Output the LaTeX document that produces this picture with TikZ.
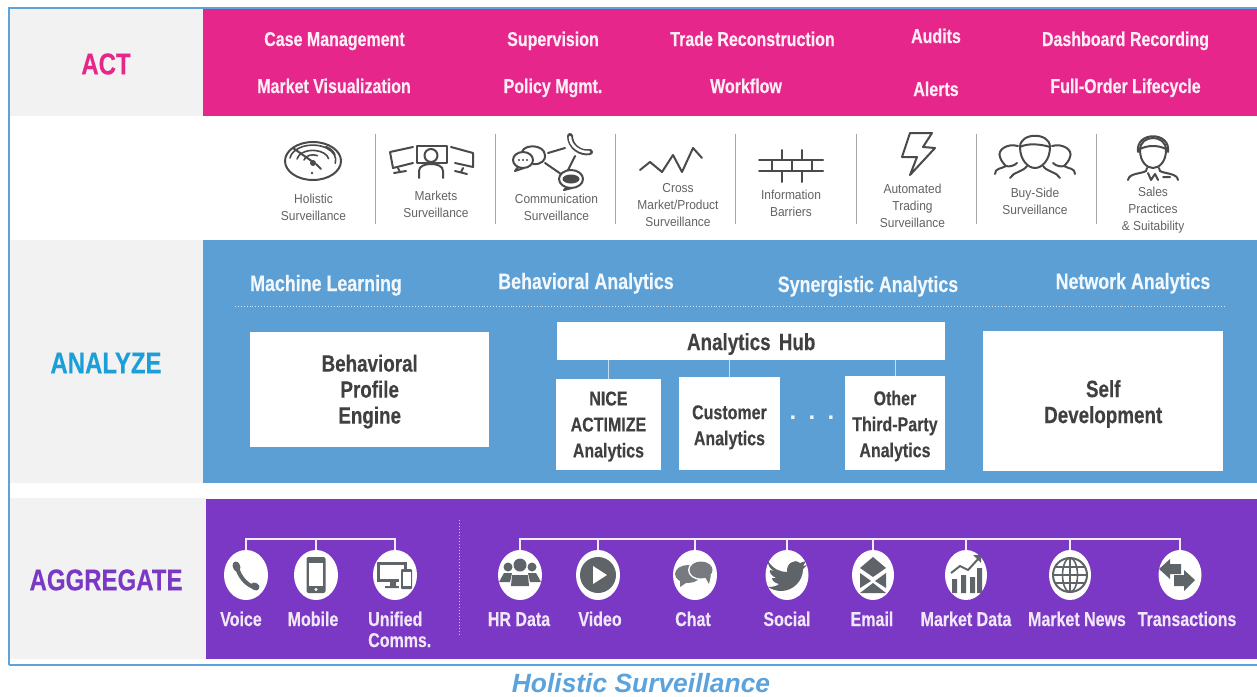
\documentclass[tikz,border=0pt]{standalone}
\usepackage{fontspec}
\setmainfont{Liberation Sans}
\newfontfamily\headfont[FakeStretch=0.80,BoldFeatures={FakeBold=0.25}]{Liberation Sans}
\newfontfamily\thinfont[FakeStretch=0.92]{Liberation Sans}
\usetikzlibrary{shapes.geometric}
\definecolor{pinkc}{HTML}{E6268A}
\definecolor{bluec}{HTML}{5B9FD4}
\definecolor{purplec}{HTML}{7B38C4}
\definecolor{analyzec}{HTML}{1C9FD8}
\definecolor{bandc}{HTML}{F2F2F2}
\definecolor{framec}{HTML}{5BA3DC}
\definecolor{icong}{HTML}{4A4A4A}
\definecolor{fillg}{HTML}{5F6468}
\definecolor{labelg}{HTML}{636363}
\newcommand{\blines}[2]{\raisebox{#1}[0pt][0pt]{\begin{tabular}{@{}c@{}}#2\end{tabular}}}
\tikzset{
  band/.style={fill=bandc,draw=none},
  rowlabel/.style={font=\headfont\bfseries\fontsize{30}{32}\selectfont,inner sep=0pt},
  head/.style={font=\headfont\bfseries\fontsize{20}{24}\selectfont,text=white!92!pinkc,inner sep=0pt,anchor=base},
  headb/.style={font=\headfont\bfseries\fontsize{22.3}{24}\selectfont,text=white!92!bluec,inner sep=0pt,anchor=base},
  boxlarge/.style={fill=white,text=black!75,font=\headfont\bfseries\fontsize{23.5}{26}\selectfont,align=center,inner sep=0pt,anchor=north west},
  boxsmall/.style={fill=white,text=black!75,font=\headfont\bfseries\fontsize{20}{26}\selectfont,align=center,inner sep=0pt,anchor=north west},
  tiny/.style={font=\thinfont\fontsize{13}{17}\selectfont,text=labelg,align=center,inner sep=0pt},
  sep/.style={draw=black!35,line width=1pt},
  ico/.style={draw=icong,line width=2pt,line cap=round,line join=round},
  src/.style={fill=white,draw=none,ellipse,minimum width=44pt,minimum height=50pt,inner sep=0pt},
  srctext/.style={font=\headfont\bfseries\fontsize{20}{21}\selectfont,text=white!88!purplec,inner sep=0pt,anchor=base},
  bus/.style={draw=white!90!purplec,line width=1.5pt},
  hubline/.style={draw=white!65!bluec,line width=.8pt},
  igl/.style={fill=fillg,draw=none}
}
\begin{document}
\begin{tikzpicture}[x=1pt,y=-1pt]
\useasboundingbox (0,0) rectangle (1257,696);
% bands
\fill[white] (0,0) rectangle (1257,696);
\fill[band] (10,9) rectangle (203,116);
\fill[band] (10,240) rectangle (203,483);
\fill[band] (10,498) rectangle (206,659);
\fill[pinkc] (203,9) rectangle (1257,116);
\fill[bluec] (203,240) rectangle (1257,483);
\fill[purplec] (206,499) rectangle (1257,659);
\draw[framec,line width=1.5pt] (9,665) -- (9,8) -- (1257,8);
\draw[framec,line width=1.5pt] (9,665) -- (1257,665);
% row labels
\node[rowlabel,text=pinkc] (act) at (106,64) {ACT};
\node[rowlabel,text=analyzec] (analyze) at (106,363) {ANALYZE};
\node[rowlabel,text=purplec] (aggregate) at (106,580) {AGGREGATE};
% ACT
\node[head] (a1) at (334.5,46) {Case Management};
\node[head] (a2) at (553,46) {Supervision};
\node[head] (a3) at (752.5,46) {Trade Reconstruction};
\node[head] (a4) at (936,43) {Audits};
\node[head] (a5) at (1125.5,46) {Dashboard Recording};
\node[head] (a6) at (334,93) {Market Visualization};
\node[head] (a7) at (553,93) {Policy Mgmt.};
\node[head] (a8) at (746,93) {Workflow};
\node[head] (a9) at (936,96) {Alerts};
\node[head] (a10) at (1125.5,93) {Full-Order Lifecycle};
% separators
\foreach \x in {375,495,615,735,856,976,1096} \draw[sep] (\x,134) -- (\x,224);
% labels
\node[tiny] (s1) at (313.5,207) {Holistic\\Surveillance};
\node[tiny] (s2) at (436,204) {Markets\\Surveillance};
\node[tiny] (s3) at (556.5,207.5) {Communication\\Surveillance};
\node[tiny] (s4) at (678,205) {Cross\\Market/Product\\Surveillance};
\node[tiny] (s5) at (791,203.5) {Information\\Barriers};
\node[tiny] (s6) at (912.5,206) {Automated\\Trading\\Surveillance};
\node[tiny] (s7) at (1035,201) {Buy-Side\\Surveillance};
\node[tiny] (s8) at (1153,210.5) {Sales\\Practices\\\& Suitability};
% icon: radar
\begin{scope}[shift={(313,161)}]
\draw[ico] (0,0) ellipse (28 and 19);
\draw[ico,line width=1.6pt] (-23,-3) arc (188:372:23 and 15);
\draw[ico,line width=1.6pt] (-16,-2) arc (188:350:16 and 10);
\draw[ico,line width=1.6pt] (-9,-1) arc (188:300:9 and 6);
\draw[ico,line width=1.6pt] (22,-6) arc (-10:-55:22 and 13);
\draw[ico] (-20,-13) -- (0,1) (3,3) -- (8,8);
\fill[icong] (0,2) circle (3);
\fill[icong] (-1,12) circle (1.3);
\end{scope}
% icon: monitors
\draw[ico] (417,146) rectangle (447,163);
\draw[ico] (413,147) -- (390,152) -- (393,168) -- (413,163);
\draw[ico] (451,147) -- (473,153) -- (473,167) -- (455,163);
\draw[ico] (431,155.5) circle (6.5);
\draw[ico] (419,178) -- (419,171) .. controls (419,166) and (425,164) .. (431,164) .. controls (437,164) and (443,166) .. (443,171) -- (443,178);
\draw[ico] (398,168) -- (400,172) (394,173) -- (406,171);
\draw[ico] (463,168) -- (461,172) (455,171) -- (467,174);
% icon: communication
\draw[ico] (523,160) ellipse (10 and 8);
\draw[ico] (522,152) .. controls (524,144) and (544,144) .. (545,155) .. controls (546,160) and (541,165) .. (533,164);
\draw[ico] (518,167) -- (515,171) -- (524,168);
\fill[icong] (519,160) circle (1.1) (523,160) circle (1.1) (527,160) circle (1.1);
\draw[ico] (548,153) -- (565,148);
\draw[ico] (545,163) -- (561,174);
\draw[ico] (575,156) -- (568,170);
\draw[icong,line width=6pt,line cap=round] (570,136) .. controls (570,146) and (580,154) .. (590,152);
\draw[white,line width=2.6pt,line cap=round] (570,137) .. controls (570,146) and (580,153) .. (589,152);
\draw[ico] (571,179) ellipse (12 and 9);
\draw[ico] (566,188) -- (564,190) -- (572,188);
\fill[icong] (571,179) ellipse (8.5 and 4.5);
% icon: cross market
\draw[ico] (640,170) -- (650,162) -- (662,172) -- (673,155) -- (682,172) -- (693,148) -- (702,158);
% icon: barriers
\draw[ico] (759,160) -- (823,160) (759,171) -- (823,171);
\draw[ico] (782,150) -- (782,160) (802,150) -- (802,160);
\draw[ico] (772,160) -- (772,171) (792,160) -- (792,171) (812,160) -- (812,171);
\draw[ico] (782,171) -- (782,182) (802,171) -- (802,182);
% icon: bolt
\draw[ico] (910,133) -- (932,133) -- (923,147) -- (935,148) -- (910,175) -- (917,157) -- (902,157) -- cycle;
% icon: buy side
\begin{scope}[shift={(1035,152)}]
\draw[ico] (-15,-5) .. controls (-15,-20) and (15,-20) .. (15,-5) .. controls (15,8) and (7,16) .. (0,16) .. controls (-7,16) and (-15,8) .. (-15,-5) -- cycle;
\draw[ico] (-15,-5) .. controls (-8,-9) and (6,-8) .. (15,-5);
\draw[ico] (-25,26) .. controls (-22,20) and (-12,20) .. (-8,14);
\draw[ico] (25,26) .. controls (22,20) and (12,20) .. (8,14);
\draw[ico] (-17,-6) .. controls (-28,-9) and (-38,-2) .. (-35,5) .. controls (-34,9) and (-31,12) .. (-29,14) .. controls (-34,17) and (-40,16) .. (-40,22);
\draw[ico] (-29,14) .. controls (-26,15) and (-21,14) .. (-18,11);
\draw[ico] (17,-6) .. controls (28,-9) and (38,-2) .. (35,5) .. controls (34,9) and (31,12) .. (29,14) .. controls (34,17) and (40,16) .. (40,22);
\draw[ico] (29,14) .. controls (26,15) and (21,14) .. (18,11);
\end{scope}
% icon: sales
\begin{scope}[shift={(1153,155)}]
\draw[ico] (-13,-5) .. controls (-13,-21) and (13,-21) .. (13,-5) .. controls (13,7) and (6,13) .. (0,13) .. controls (-6,13) and (-13,7) .. (-13,-5) -- cycle;
\draw[ico] (-15,-3) .. controls (-18,-24) and (18,-24) .. (15,-3);
\draw[ico] (-13,-6) .. controls (-5,-10) and (5,-10) .. (13,-6);
\draw[ico] (-6,13) -- (-7,16) .. controls (-12,19) and (-24,18) .. (-25,25);
\draw[ico] (6,13) -- (7,16) .. controls (12,19) and (24,18) .. (25,25);
\draw[ico] (-5,18) -- (-2,25) -- (2,19) -- (5,25) (10,22) -- (17,22);
\end{scope}
% ANALYZE
\node[headb] (b1) at (326,291) {Machine Learning};
\node[headb] (b2) at (586,289) {Behavioral Analytics};
\node[headb] (b3) at (868,292) {Synergistic Analytics};
\node[headb] (b4) at (1133,289) {Network Analytics};
\coordinate (ruleL) at (235,306);
\coordinate (ruleR) at (1225,306);
\draw[white!70!bluec,line width=.9pt,dotted] (ruleL) -- (ruleR);
\node[boxlarge,minimum width=239pt,minimum height=115pt] (engine) at (250,332) {\blines{-8.9pt}{Behavioral\\Profile\\Engine}};
\node[boxlarge,minimum width=388pt,minimum height=38pt] (hub) at (557,322) {\blines{-9.9pt}{Analytics\hspace{3pt} Hub}};
\node[boxsmall,minimum width=105.5pt,minimum height=91.5pt] (nice) at (555.5,378.5) {\blines{-7pt}{NICE\\ACTIMIZE\\Analytics}};
\node[boxsmall,minimum width=100.5pt,minimum height=93pt] (cust) at (679,377) {\blines{-8.5pt}{Customer\\Analytics}};
\node[boxsmall,minimum width=100.5pt,minimum height=94pt] (other) at (844.5,376) {\blines{-8pt}{Other\\Third-Party\\Analytics}};
\node[boxlarge,minimum width=240pt,minimum height=140pt] (self) at (983,331) {\blines{-9.9pt}{Self\\Development}};
\draw[hubline] (hub.south -| nice.north) -- (nice.north);
\draw[hubline] (hub.south -| cust.north) -- (cust.north);
\draw[hubline] (hub.south -| other.north) -- (other.north);
\node[font=\bfseries\fontsize{24}{24}\selectfont,text=white!90!bluec,inner sep=0pt,anchor=base] (dots) at (812,419) {.\hspace{12.3pt}.\hspace{12.3pt}.};
% AGGREGATE
\draw[white!70!purplec,line width=1pt,dotted] (459,520) -- (459,636);
\coordinate (busA) at (300,539);
\coordinate (busB) at (800,539);
\node[src] (voice) at (246,575) {};
\node[src] (mobile) at (316,575) {};
\node[src] (unified) at (395,575) {};
\node[src] (hr) at (520,575) {};
\node[src] (video) at (598,575) {};
\node[src] (chat) at (695,575) {};
\node[src,minimum width=43pt] (social) at (787,575) {};
\node[src,minimum width=42pt] (email) at (873,575) {};
\node[src,minimum width=42pt] (mdata) at (966,575) {};
\node[src,minimum width=42pt] (mnews) at (1070,575) {};
\node[src,minimum width=43pt] (trans) at (1180,575) {};
\draw[bus] (voice.north) |- (busA) -| (unified.north);
\draw[bus] (mobile.north) -- (mobile.north |- busA);
\draw[bus] (hr.north) |- (busB) -| (trans.north);
\foreach \n in {video,chat,social,email,mdata,mnews} \draw[bus] (\n.north) -- (\n.north |- busB);
% source labels
\node[srctext] (v1) at (241,626) {Voice};
\node[srctext] (v2) at (313,626) {Mobile};
\node[srctext,align=left,anchor=base west] (v3) at (368,647) {Unified\\Comms.};
\node[srctext] (v4) at (519,626) {HR Data};
\node[srctext] (v5) at (600,626) {Video};
\node[srctext] (v6) at (693,626) {Chat};
\node[srctext] (v7) at (787,626) {Social};
\node[srctext] (v8) at (872,626) {Email};
\node[srctext] (v9) at (966,626) {Market Data};
\node[srctext] (v10) at (1077,626) {Market News};
\node[srctext] (v11) at (1187,626) {Transactions};
% source glyphs
\begin{scope}[shift={(246,575)}]
\draw[fillg,line width=4pt,line cap=round] (-9,-9) .. controls (-8,0) and (0,10) .. (8,12);
\draw[fillg,line width=7pt,line cap=round] (-10,-10) -- (-9,-7) (8,11) -- (10,12);
\end{scope}
\begin{scope}[shift={(316,575)}]
\fill[igl,rounded corners=2pt] (-9.5,-18) rectangle (9.5,18);
\fill[white] (-7,-12) rectangle (7,11);
\fill[white] (0,14.5) circle (1.6);
\end{scope}
\begin{scope}[shift={(395,575)}]
\fill[igl] (-18,-13) rectangle (12,7);
\fill[white] (-15,-10) rectangle (9,4);
\fill[igl] (-5,7) rectangle (1,11) (-10,11) rectangle (6,13);
\fill[white] (4,-6) rectangle (18,15);
\fill[igl,rounded corners=1pt] (6,-6) rectangle (17,14);
\fill[white] (7.5,-3.5) rectangle (15.5,10.5);
\end{scope}
\begin{scope}[shift={(520,575)}]
\fill[igl] (0,-10) circle (6.5);
\fill[igl] (-12,-8) circle (4.5) (12,-8) circle (4.5);
\fill[igl] (-9,11) -- (-8,0) -- (8,0) -- (9,11) -- cycle;
\fill[igl] (-21,7) -- (-16,-2) -- (-8,-2) -- (-10,7) -- cycle;
\fill[igl] (21,7) -- (16,-2) -- (8,-2) -- (10,7) -- cycle;
\end{scope}
\begin{scope}[shift={(598,575)}]
\fill[igl] (0,0) circle (18);
\fill[white] (-5,-9) -- (9,0) -- (-5,9) -- cycle;
\end{scope}
\begin{scope}[shift={(695,575)}]
\fill[fillg!85!white] (-7,-1) ellipse (13 and 9);
\fill[fillg!85!white] (-15,4) -- (-15,12) -- (-6,6) -- cycle;
\fill[white] (6,-5) ellipse (13 and 10);
\fill[fillg!85!white] (6,-5) ellipse (11.5 and 8.5);
\fill[fillg!85!white] (10,2) -- (14,9) -- (16,0) -- cycle;
\end{scope}
\begin{scope}[shift={(787,575)}]
\fill[igl] (-19,-14) .. controls (-14,-6) and (-7,-3) .. (0,-3) .. controls (-1,-11) and (7,-17) .. (13,-12) -- (19,-14) -- (16,-9) -- (20,-10) -- (16,-6) .. controls (16,6) and (6,16) .. (-6,16) .. controls (-11,16) and (-16,14) .. (-19,12) .. controls (-14,12) and (-10,11) .. (-8,9) .. controls (-12,8) and (-15,6) .. (-15,3) -- (-11,3) .. controls (-15,1) and (-18,-2) .. (-17,-5) -- (-13,-4) .. controls (-18,-7) and (-19,-10) .. (-19,-14) -- cycle;
\end{scope}
\begin{scope}[shift={(873,575)}]
\fill[igl] (-13,-7) -- (0,-18) -- (13,-7) -- (0,2) -- cycle;
\fill[igl] (-13,-2) -- (-2,6) -- (-13,13) -- cycle;
\fill[igl] (13,-2) -- (2,6) -- (13,13) -- cycle;
\fill[igl] (-13,18) -- (0,8) -- (13,18) -- cycle;
\end{scope}
\begin{scope}[shift={(966,575)}]
\fill[igl] (-14,4) rectangle (-9,18) (-5,0) rectangle (0,18) (4,2) rectangle (9,18) (11,-7) rectangle (16,18);
\draw[fillg,line width=2pt] (-15,-2) -- (-6,-9) -- (2,-5) -- (13,-17);
\fill[igl] (7,-20) -- (15,-20) -- (15,-12) -- cycle;
\end{scope}
\begin{scope}[shift={(1070,575)}]
\draw[fillg,line width=2pt] (0,0) circle (17);
\draw[fillg,line width=1.6pt] (0,0) ellipse (7.5 and 17) (0,-17) -- (0,17) (-17,0) -- (17,0) (-15,-8) -- (15,-8) (-15,8) -- (15,8);
\end{scope}
\begin{scope}[shift={(1180,575)}]
\fill[igl] (-21,-6) -- (-10,-16) -- (-10,-11) -- (1,-11) -- (1,-1) -- (-10,-1) -- (-10,4) -- cycle;
\fill[igl] (15,5) -- (4,-5) -- (4,0) -- (-6,0) -- (-6,11) -- (4,11) -- (4,16) -- cycle;
\end{scope}
% caption
\node[font=\bfseries\itshape\fontsize{26.4}{28}\selectfont,text=framec,inner sep=0pt] (cap) at (641,683) {Holistic Surveillance};
\end{tikzpicture}
\end{document}
